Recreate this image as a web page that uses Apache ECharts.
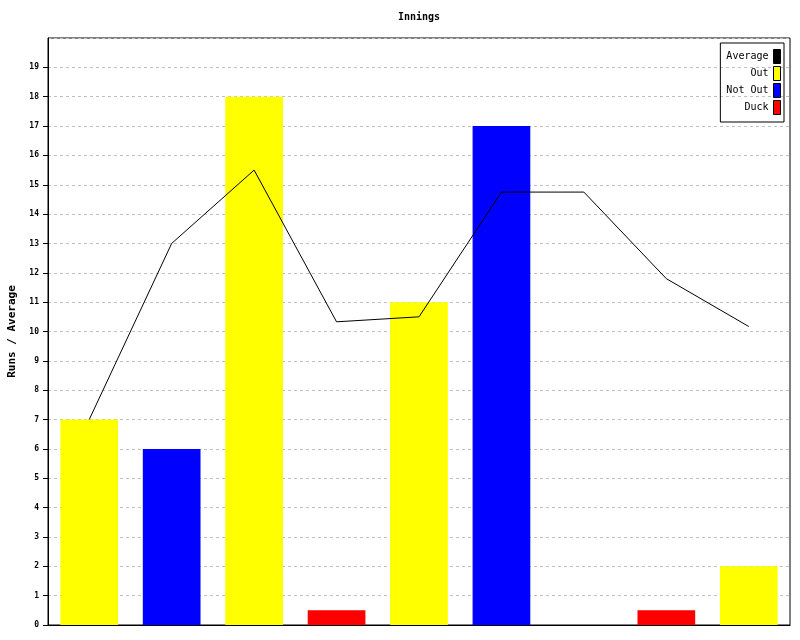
<!DOCTYPE html>
<html><head><meta charset="utf-8">
<script src="https://cdn.jsdelivr.net/npm/echarts@6/dist/echarts.min.js"></script>
<style>html,body{margin:0;padding:0;background:#fff}#c{width:800px;height:640px}</style>
</head><body><div id="c"></div>
<script>
const categories = ['1','2','3','4','5','6','7','8','9'];
const outRuns = [7, null, 18, null, 11, null, null, null, 2];
const notOutRuns = [null, 6, null, null, null, 17, null, null, null];
const duckRuns = [null, null, null, 0.5, null, null, null, 0.5, null];
const average = [7, 13, 15.5, 10.33, 10.5, 14.75, 14.75, 11.8, 10.17];
const yTicks = [0,1,2,3,4,5,6,7,8,9,10,11,12,13,14,15,16,17,18,19];

const font = 'DejaVu Sans Mono';
const yMax = 20, tickMax = 19;
const gTop = 38, gBottom = 15, H = 640;
const plotH = H - gTop - gBottom;
const tickGridTop = gTop + plotH * (yMax - tickMax) / yMax;

const chart = echarts.init(document.getElementById('c'));
chart.setOption({
  animation: false,
  backgroundColor: '#fff',
  title: { text: 'Innings', left: 419, top: 12, textAlign: 'center', padding: 0,
    textStyle: { fontFamily: font, fontSize: 10, fontWeight: 'bold', color: '#000' } },
  legend: {
    orient: 'vertical', right: 16, top: 43, align: 'right',
    itemWidth: 7, itemHeight: 14, itemGap: 2,
    padding: [6, 3, 7, 6],
    borderColor: '#000', borderWidth: 1,
    textStyle: { fontFamily: font, fontSize: 10, color: '#000', lineHeight: 12 },
    data: [
      { name: 'Average', icon: 'rect', itemStyle: { color: '#000', borderColor: '#000', borderWidth: 1 } },
      { name: 'Out', icon: 'rect', itemStyle: { color: '#ffff00', borderColor: '#000', borderWidth: 1 } },
      { name: 'Not Out', icon: 'rect', itemStyle: { color: '#0000ff', borderColor: '#000', borderWidth: 1 } },
      { name: 'Duck', icon: 'rect', itemStyle: { color: '#ff0000', borderColor: '#000', borderWidth: 1 } }
    ]
  },
  grid: [
    { left: 48, right: 10, top: gTop, bottom: gBottom, show: true, borderColor: '#000', borderWidth: 1,
      containLabel: false, outerBoundsMode: 'none' },
    { left: 48, right: 10, top: tickGridTop, bottom: gBottom, show: false,
      containLabel: false, outerBoundsMode: 'none' }
  ],
  xAxis: [
    { type: 'category', data: categories, gridIndex: 0,
      axisLine: { lineStyle: { color: '#000', width: 1 } },
      axisTick: { show: false }, axisLabel: { show: false } },
    { type: 'category', data: categories, gridIndex: 1, show: false }
  ],
  yAxis: [
    { type: 'value', min: 0, max: yMax, interval: 1, gridIndex: 0,
      name: 'Runs / Average', nameLocation: 'middle', nameGap: 30, nameRotate: 90,
      nameTextStyle: { fontFamily: font, fontSize: 11, fontWeight: 'bold', color: '#000' },
      axisLine: { show: true, lineStyle: { color: '#000', width: 1 } },
      axisTick: { show: false },
      axisLabel: { fontFamily: font, fontSize: 8, fontWeight: 'bold', color: '#000', margin: 9, customValues: yTicks },
      splitLine: { show: true, lineStyle: { color: '#c0c0c0', type: [3, 3] } } },
    { type: 'value', min: 0, max: tickMax, interval: 1, gridIndex: 1,
      axisLine: { show: false },
      axisTick: { show: true, inside: false, length: 5, lineStyle: { color: '#000', width: 1 } },
      axisLabel: { show: false }, splitLine: { show: false } }
  ],
  series: [
    { name: 'Out', type: 'bar', stack: 'r', data: outRuns, barWidth: '70%', itemStyle: { color: '#ffff00' } },
    { name: 'Not Out', type: 'bar', stack: 'r', data: notOutRuns, barWidth: '70%', itemStyle: { color: '#0000ff' } },
    { name: 'Duck', type: 'bar', stack: 'r', data: duckRuns, barWidth: '70%', itemStyle: { color: '#ff0000' } },
    { name: 'Average', type: 'line', data: average, symbol: 'none', z: 5,
      lineStyle: { color: '#000', width: 1 }, itemStyle: { color: '#000' } }
  ]
});
</script></body></html>
